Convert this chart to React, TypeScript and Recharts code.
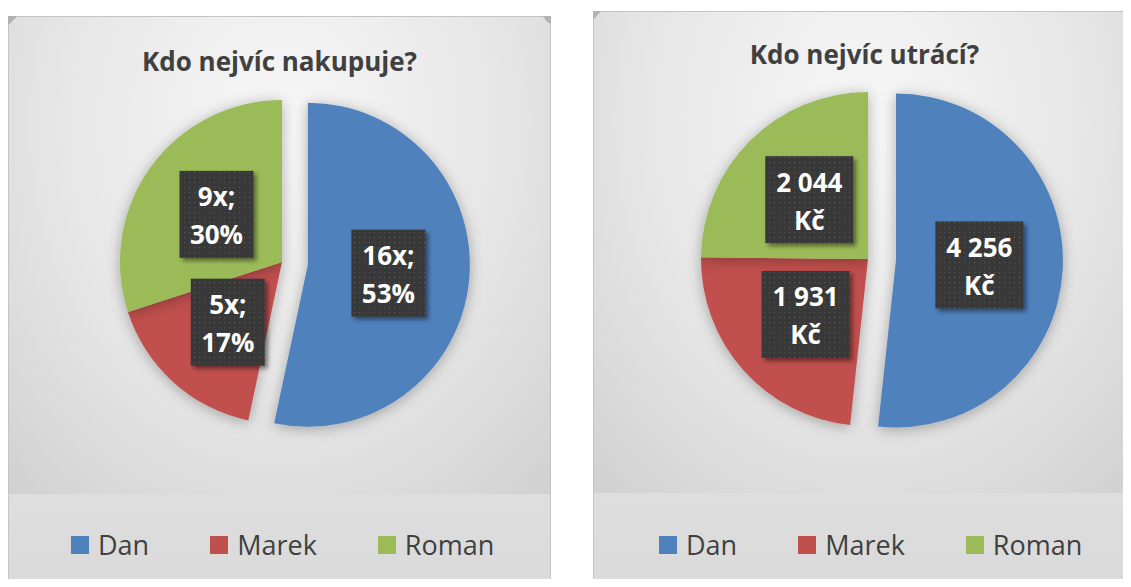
import React from 'react';
import { PieChart, Pie, Cell } from 'recharts';

const people = ['Dan', 'Marek', 'Roman'];
const personColors = ['#4f81bd', '#c0504d', '#9bbb59'];
const purchases = [16, 5, 9];
const spending = [4256, 1931, 2044];

const FONT = '"Open Sans", "DejaVu Sans", sans-serif';
const RAD = Math.PI / 180;

// thousands separated by a space, like the Czech original
const czk = (v: number) => String(v).replace(/\B(?=(\d{3})+(?!\d))/g, '\u00a0');

const total = (arr: number[]) => arr.reduce((a, b) => a + b, 0);

const purchaseLines = purchases.map((v) => [
  `${v}x;`,
  `${Math.round((v / total(purchases)) * 100)}%`
]);
const spendingLines = spending.map((v) => [czk(v), 'Kč']);

function makeLabel(lines: string[][], visible: number[], boxW: number) {
  return (props: any) => {
    const { cx, cy, midAngle, outerRadius, index } = props;
    if (!visible.includes(index)) return <g />;
    const r = outerRadius * 0.5;
    const x = cx + r * Math.cos(-midAngle * RAD);
    const y = cy + r * Math.sin(-midAngle * RAD);
    const boxH = 87;
    return (
      <g>
        <rect
          x={x - boxW / 2}
          y={y - boxH / 2}
          width={boxW}
          height={boxH}
          fill="url(#dots)"
          filter="url(#boxShadow)" />

        <text
          x={x}
          textAnchor="middle"
          fill="#ffffff"
          fontFamily={FONT}
          fontWeight={700}
          fontSize={26}>
          <tspan x={x} y={y - 8}>{lines[index][0]}</tspan>
          <tspan x={x} y={y + 30}>{lines[index][1]}</tspan>
        </text>
      </g>);

  };
}

type PanelProps = {
  left: number;
  top: number;
  title: string;
  titleBaseline: number;
  values: number[];
  lines: string[][];
  boxW: number;
  cx: number;
  cy: number;
  radius: number;
  explode: number;
  bandTop: number;
  legendTop: number;
  legendLeft: number;
};

function Panel(p: PanelProps) {
  const data = people.map((name, i) => ({ name, value: p.values[i] }));
  // Dan's slice is pulled out along its own mid angle
  const mid = 90 - 180 * (p.values[0] / total(p.values));
  const dx = p.explode * Math.cos(mid * RAD);
  const dy = -p.explode * Math.sin(mid * RAD);
  const W = 543;

  return (
    <div
      style={{
        position: 'absolute',
        left: p.left,
        top: p.top,
        width: W,
        height: 600,
        background:
        'radial-gradient(ellipse 75% 85% at 50% 18%, #f7f7f7 0%, #e6e6e6 55%, #d0d0d0 100%)',
        boxShadow: 'inset 0 0 0 1px #c4c4c4'
      }}>

      <div
        style={{
          position: 'absolute',
          left: 1,
          right: 1,
          top: p.bandTop,
          bottom: 0,
          background: 'linear-gradient(#dedede, #d8d8d8)'
        }} />

      <div
        style={{
          position: 'absolute',
          left: 0,
          top: 0,
          width: 9,
          height: 9,
          background: 'linear-gradient(135deg, #b2b2b2 50%, transparent 50%)'
        }} />

      <div
        style={{
          position: 'absolute',
          right: 0,
          top: 0,
          width: 9,
          height: 9,
          background: 'linear-gradient(225deg, #b2b2b2 50%, transparent 50%)'
        }} />

      <div
        style={{
          position: 'absolute',
          left: 0,
          width: W,
          top: p.titleBaseline - 29,
          textAlign: 'center',
          fontFamily: FONT,
          fontWeight: 700,
          fontSize: 26,
          color: '#404040',
          whiteSpace: 'nowrap'
        }}>
        {p.title}
      </div>

      <div style={{ position: 'absolute', left: 0, top: 0 }}>
        <PieChart width={W} height={p.bandTop} margin={{ top: 0, right: 0, bottom: 0, left: 0 }}>
          <Pie
            data={data}
            dataKey="value"
            nameKey="name"
            cx={p.cx}
            cy={p.cy}
            outerRadius={p.radius}
            startAngle={90}
            endAngle={-270}
            stroke="none"
            labelLine={false}
            label={makeLabel(p.lines, [1, 2], p.boxW)}
            isAnimationActive={false}>

            {data.map((d, i) =>
            <Cell
              key={d.name}
              fill={i === 0 ? 'none' : personColors[i]}
              stroke="none"
              filter={i === 0 ? undefined : 'url(#pieGlow)'} />

            )}
          </Pie>
          <Pie
            data={data}
            dataKey="value"
            nameKey="name"
            cx={p.cx + dx}
            cy={p.cy + dy}
            outerRadius={p.radius}
            startAngle={90}
            endAngle={-270}
            stroke="none"
            labelLine={false}
            label={makeLabel(p.lines, [0], p.boxW)}
            isAnimationActive={false}>

            {data.map((d, i) =>
            <Cell
              key={d.name}
              fill={i === 0 ? personColors[0] : 'none'}
              stroke="none"
              filter={i === 0 ? 'url(#pieGlow)' : undefined} />

            )}
          </Pie>
        </PieChart>
      </div>

      <div
        style={{
          position: 'absolute',
          left: p.legendLeft,
          top: p.legendTop,
          display: 'flex',
          alignItems: 'center',
          gap: 61,
          fontFamily: FONT,
          fontSize: 27,
          color: '#404040',
          lineHeight: 1
        }}>

        {people.map((name, i) =>
        <div key={name} style={{ display: 'flex', alignItems: 'center' }}>
            <span
            style={{
              display: 'inline-block',
              width: 18,
              height: 18,
              background: personColors[i],
              marginRight: 9
            }} />

            <span>{name}</span>
          </div>
        )}
      </div>
    </div>);

}

export default function App() {
  return (
    <div
      style={{
        position: 'relative',
        width: 1131,
        height: 587,
        margin: -8,
        overflow: 'hidden',
        background: '#ffffff'
      }}>

      <svg width={0} height={0} style={{ position: 'absolute' }}>
        <defs>
          <pattern id="dots" width={5} height={5} patternUnits="userSpaceOnUse">
            <rect width={5} height={5} fill="#383838" />
            <rect x={1} y={1} width={1.2} height={1.2} fill="#555555" />
          </pattern>
          <filter id="boxShadow" x="-20%" y="-20%" width="150%" height="150%">
            <feDropShadow dx={3} dy={3} stdDeviation={2} floodColor="#000" floodOpacity={0.45} />
          </filter>
          <filter id="pieGlow" x="-20%" y="-20%" width="140%" height="140%">
            <feDropShadow dx={0} dy={2} stdDeviation={7} floodColor="#000" floodOpacity={0.3} />
          </filter>
        </defs>
      </svg>

      <Panel
        left={8}
        top={16}
        title="Kdo nejvíc nakupuje?"
        titleBaseline={56}
        values={purchases}
        lines={purchaseLines}
        boxW={74}
        cx={274}
        cy={246}
        radius={162}
        explode={26}
        bandTop={478}
        legendTop={515}
        legendLeft={63} />

      <Panel
        left={593}
        top={11}
        title="Kdo nejvíc utrácí?"
        titleBaseline={54}
        values={spending}
        lines={spendingLines}
        boxW={88}
        cx={275}
        cy={248}
        radius={167}
        explode={28}
        bandTop={482}
        legendTop={520}
        legendLeft={66} />

    </div>);

}
